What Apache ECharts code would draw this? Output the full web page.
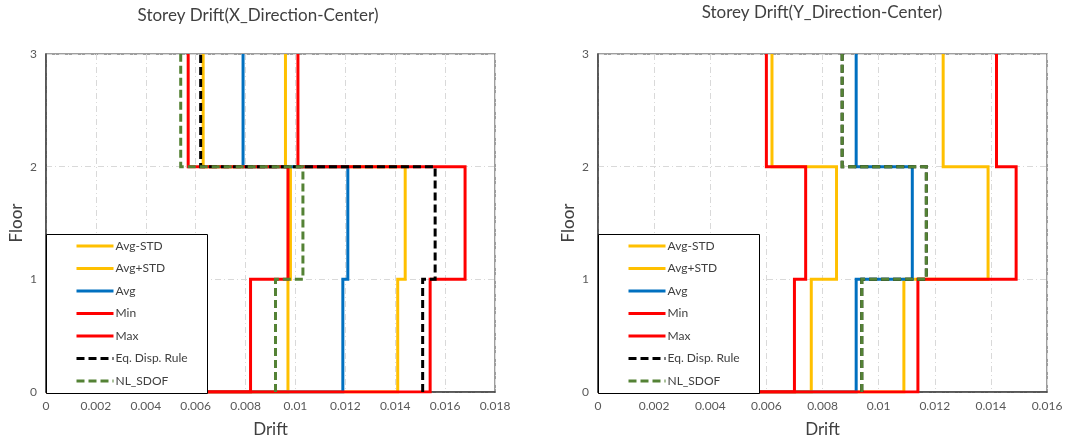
<!DOCTYPE html>
<html>
<head>
<meta charset="utf-8">
<title>Storey Drift</title>
<script src="https://cdn.jsdelivr.net/npm/echarts@6/dist/echarts.min.js"></script>
<style>
  html, body { margin: 0; padding: 0; background: #fff; }
  #chart { width: 1067px; height: 443px; }
</style>
</head>
<body>
<div id="chart"></div>
<script>
// Storey drift per floor (floor 1, 2, 3), X direction
const xAvgMinusStd = [0.0097, 0.0098, 0.0063];
const xAvgPlusStd  = [0.0141, 0.0144, 0.0096];
const xAvg         = [0.0119, 0.0121, 0.0079];
const xMin         = [0.0082, 0.0097, 0.0057];
const xMax         = [0.0154, 0.0168, 0.0101];
const xEqDisp      = [0.0151, 0.0156, 0.0062];
const xNlSdof      = [0.0092, 0.0103, 0.0054];

// Storey drift per floor (floor 1, 2, 3), Y direction
const yAvgMinusStd = [0.0076, 0.0085, 0.0062];
const yAvgPlusStd  = [0.0109, 0.0139, 0.0123];
const yAvg         = [0.0092, 0.0112, 0.0092];
const yMin         = [0.0070, 0.0074, 0.0060];
const yMax         = [0.0114, 0.0149, 0.0142];
const yEqDisp      = [0.0094, 0.0117, 0.0087];
const yNlSdof      = [0.0094, 0.0117, 0.0087];

const seriesNames = ['Avg-STD', 'Avg+STD', 'Avg', 'Min', 'Max', 'Eq. Disp. Rule', 'NL_SDOF'];
const titles = ['Storey Drift(X_Direction-Center)', 'Storey Drift(Y_Direction-Center)'];
const xMaxTicks = [0.018, 0.016];

const FONT = 'Lato, "Open Sans", sans-serif';
const GREY_TEXT = '#595959';

// Step profile: drift held constant over each storey, starting at the base
function stepProfile(drifts, fromOrigin) {
  const pts = fromOrigin ? [[0, 0]] : [];
  drifts.forEach(function (d, i) {
    pts.push([d, i]);
    pts.push([d, i + 1]);
  });
  return pts;
}

const styles = [
  { color: '#FFC000', dash: 'solid' },
  { color: '#FFC000', dash: 'solid' },
  { color: '#0070C0', dash: 'solid' },
  { color: '#FF0000', dash: 'solid' },
  { color: '#FF0000', dash: 'solid' },
  { color: '#000000', dash: [8, 4] },
  { color: '#548235', dash: [8, 4] }
];

const panels = [
  [xAvgMinusStd, xAvgPlusStd, xAvg, xMin, xMax, xEqDisp, xNlSdof],
  [yAvgMinusStd, yAvgPlusStd, yAvg, yMin, yMax, yEqDisp, yNlSdof]
];

const gridBoxes = [
  { left: 46, top: 54, width: 449, height: 339 },
  { left: 598, top: 54, width: 449, height: 339 }
];

const option = {
  animation: false,
  backgroundColor: '#fff',
  textStyle: { fontFamily: FONT },
  title: [
    { text: titles[0], left: 253, top: 2, textAlign: 'center',
      textStyle: { fontFamily: FONT, fontSize: 17, fontWeight: 'normal', color: '#404040' } },
    { text: titles[1], left: 817, top: -1, textAlign: 'center',
      textStyle: { fontFamily: FONT, fontSize: 17, fontWeight: 'normal', color: '#404040' } }
  ],
  grid: gridBoxes.map(function (g) {
    return Object.assign({ show: true, borderColor: '#7f7f7f', borderWidth: 1.5, backgroundColor: 'transparent', containLabel: false }, g);
  }),
  xAxis: [0, 1].map(function (k) {
    return {
      type: 'value', gridIndex: k, min: 0, max: xMaxTicks[k], interval: 0.002,
      name: 'Drift', nameLocation: 'middle', nameGap: 29,
      nameTextStyle: { fontFamily: FONT, fontSize: 17, color: '#404040' },
      axisLine: { show: true, lineStyle: { color: '#404040', width: 1.5 } },
      axisTick: { show: false },
      axisLabel: { fontFamily: FONT, fontSize: 12, color: GREY_TEXT, margin: 8,
        formatter: function (v) { return String(+v.toFixed(3)); } },
      splitLine: { show: true, lineStyle: { color: '#d9d9d9', width: 1, type: [6, 3, 1, 3] } }
    };
  }),
  yAxis: [0, 1].map(function (k) {
    return {
      type: 'value', gridIndex: k, min: 0, max: 3, interval: 1,
      name: 'Floor', nameLocation: 'middle', nameGap: 21,
      nameTextStyle: { fontFamily: FONT, fontSize: 17, color: '#404040' },
      axisLine: { show: true, lineStyle: { color: '#404040', width: 1.5 } },
      axisTick: { show: false },
      axisLabel: { fontFamily: FONT, fontSize: 12, color: GREY_TEXT, margin: 9 },
      splitLine: { show: true, lineStyle: { color: '#d9d9d9', width: 1, type: [6, 3, 1, 3] } }
    };
  }),
  legend: gridBoxes.map(function (g) {
    return {
      orient: 'vertical',
      left: g.left + 24,
      top: 235,
      padding: [5, 5, 5, 5],
      itemWidth: 37,
      itemHeight: 14,
      itemGap: 10.5,
      z: 20,
      data: seriesNames,
      itemStyle: { opacity: 0 },
      lineStyle: { width: 3 },
      textStyle: { fontFamily: FONT, fontSize: 12, color: '#404040', padding: [0, 0, 0, -3] }
    };
  }),
  graphic: {
    elements: gridBoxes.map(function (g) {
      return {
        type: 'rect', z: 10, left: g.left, top: 234,
        shape: { width: 161, height: 159 },
        style: { fill: '#fff', stroke: '#000', lineWidth: 1 }
      };
    })
  },
  series: []
};

panels.forEach(function (sets, k) {
  sets.forEach(function (drifts, i) {
    const dashed = styles[i].dash !== 'solid';
    option.series.push({
      name: seriesNames[i],
      type: 'line',
      xAxisIndex: k,
      yAxisIndex: k,
      data: stepProfile(drifts, !dashed),
      symbol: 'none',
      showSymbol: false,
      clip: true,
      z: 2 + i,
      lineStyle: { color: styles[i].color, width: 3, type: styles[i].dash, cap: 'butt', join: 'miter' },
      itemStyle: { color: styles[i].color }
    });
  });
});

const chart = echarts.init(document.getElementById('chart'), null, { renderer: 'canvas' });
chart.setOption(option);
</script>
</body>
</html>
